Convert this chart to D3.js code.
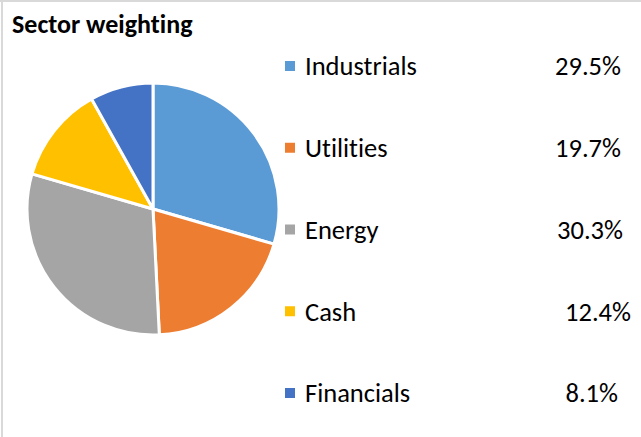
<!DOCTYPE html>
<html>
<head>
<meta charset="utf-8">
<script src="https://cdn.jsdelivr.net/npm/d3@7"></script>
<style>
  body { margin: 0; background: #fff; }
  text { font-family: Carlito, Calibri, "Open Sans", sans-serif; font-variant-ligatures: none; }
</style>
</head>
<body>
<div id="chart"></div>
<script>
var sectors = ["Industrials", "Utilities", "Energy", "Cash", "Financials"];
var weights = [29.5, 19.7, 30.3, 12.4, 8.1];
var labels = ["29.5%", "19.7%", "30.3%", "12.4%", "8.1%"];
var colors = ["#5B9BD5", "#ED7D31", "#A5A5A5", "#FFC000", "#4472C4"];

var width = 641, height = 437;
var svg = d3.select("#chart").append("svg")
    .attr("width", width)
    .attr("height", height);

// border, only top and left show in the picture
svg.append("line").attr("x1", 0).attr("x2", width).attr("y1", 1).attr("y2", 1)
    .attr("stroke", "#d9d9d9").attr("stroke-width", 2);
svg.append("line").attr("x1", 2).attr("x2", 2).attr("y1", 0).attr("y2", height)
    .attr("stroke", "#d9d9d9").attr("stroke-width", 2);

svg.append("text")
    .attr("x", 12).attr("y", 33)
    .attr("font-size", 26).attr("font-weight", "bold")
    .attr("fill", "#000")
    .text("Sector weighting");

var data = sectors.map(function (s, i) { return {name: s, value: weights[i], label: labels[i], color: colors[i]}; });

var pie = d3.pie().sort(null).value(function (d) { return d.value; });
var arc = d3.arc().innerRadius(0).outerRadius(126);

var g = svg.append("g").attr("transform", "translate(153,209)");
g.selectAll("path")
    .data(pie(data))
    .enter()
    .append("path")
    .attr("d", arc)
    .attr("fill", function (d) { return d.data.color; })
    .attr("stroke", "#fff")
    .attr("stroke-width", 3)
    .attr("stroke-linejoin", "round");

// legend
var y = d3.scalePoint().domain(sectors).range([66, 393]);
var valueRight = [621, 621, 623, 631, 618];

var legend = svg.selectAll("g.legend")
    .data(data)
    .enter().append("g")
    .attr("class", "legend")
    .attr("transform", function (d) { return "translate(0," + y(d.name) + ")"; });

legend.append("rect")
    .attr("x", 285).attr("y", -5)
    .attr("width", 10).attr("height", 10)
    .attr("fill", function (d) { return d.color; });

legend.append("text")
    .attr("x", 305).attr("dy", "0.35em")
    .attr("font-size", 26.5).attr("fill", "#000")
    .text(function (d) { return d.name; });

legend.append("text")
    .attr("x", function (d, i) { return valueRight[i]; })
    .attr("dy", "0.35em")
    .attr("text-anchor", "end")
    .attr("font-size", 26.5).attr("fill", "#000")
    .text(function (d) { return d.label; });
</script>
</body>
</html>
